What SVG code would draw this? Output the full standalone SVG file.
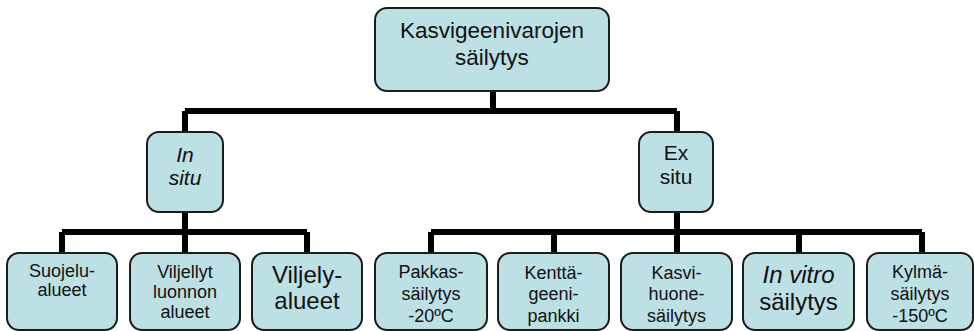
<svg xmlns="http://www.w3.org/2000/svg" width="974" height="331" viewBox="0 0 974 331">
<style>
.box{fill:#BCE0E3;stroke:#1c1c1c;stroke-width:2}
.t{font-family:"Liberation Sans",Arial,sans-serif;fill:#111;text-anchor:middle}
.s17{font-size:18px}
.s20{font-size:21px}
.s22{font-size:22.5px}
.s23{font-size:24px}
.it{font-style:italic}
.c{stroke:#000;stroke-width:6;fill:none;stroke-linejoin:miter}
</style>
<rect width="974" height="331" fill="#fff"/>
<g id="connectors">
<path class="c" d="M493 90V111M185 111H677M185 111V132M677 111V132"/>
<path class="c" d="M185 212V232M62 232H307M62 232V253M185 232V253M307 232V253"/>
<path class="c" d="M677 212V232M431 232H922M431 232V253M554 232V253M677 232V253M799 232V253M922 232V253"/>
</g>
<g id="root">
<rect class="box" x="375" y="8" width="234" height="83" rx="12"/>
<text class="t s22" x="492" y="38">Kasvigeenivarojen</text>
<text class="t s22" x="492" y="65">säilytys</text>
</g>
<g id="insitu">
<rect class="box" x="147" y="132" width="76" height="80" rx="12"/>
<text class="t s20 it" x="185" y="162">In</text>
<text class="t s20 it" x="185" y="185">situ</text>
</g>
<g id="exsitu">
<rect class="box" x="639" y="132" width="74" height="80" rx="12"/>
<text class="t s20" x="676" y="160">Ex</text>
<text class="t s20" x="676" y="184">situ</text>
</g>
<g id="suojelu">
<rect class="box" x="7" y="253" width="110" height="77" rx="12"/>
<text class="t s17" x="62" y="277">Suojelu-</text>
<text class="t s17" x="62" y="296">alueet</text>
</g>
<g id="viljellyt">
<rect class="box" x="130" y="253" width="110" height="77" rx="12"/>
<text class="t s17" x="185" y="278">Viljellyt</text>
<text class="t s17" x="185" y="298">luonnon</text>
<text class="t s17" x="185" y="318">alueet</text>
</g>
<g id="viljely">
<rect class="box" x="252" y="253" width="110" height="77" rx="12"/>
<text class="t s23" x="307" y="283">Viljely-</text>
<text class="t s23" x="307" y="309">alueet</text>
</g>
<g id="pakkas">
<rect class="box" x="375" y="253" width="112" height="77" rx="12"/>
<text class="t s17" x="431" y="278">Pakkas-</text>
<text class="t s17" x="431" y="300">säilytys</text>
<text class="t s17" x="431" y="322">-20ºC</text>
</g>
<g id="kentta">
<rect class="box" x="498" y="253" width="111" height="77" rx="12"/>
<text class="t s17" x="553.5" y="279">Kenttä-</text>
<text class="t s17" x="553.5" y="300">geeni-</text>
<text class="t s17" x="553.5" y="322">pankki</text>
</g>
<g id="kasvihuone">
<rect class="box" x="621" y="253" width="111" height="77" rx="12"/>
<text class="t s17" x="676.5" y="279">Kasvi-</text>
<text class="t s17" x="676.5" y="300">huone-</text>
<text class="t s17" x="676.5" y="322">säilytys</text>
</g>
<g id="invitro">
<rect class="box" x="743" y="253" width="111" height="77" rx="12"/>
<text class="t s23" x="798.5" y="283"><tspan class="it">In vitro</tspan></text>
<text class="t s23" x="798.5" y="310">säilytys</text>
</g>
<g id="kylma">
<rect class="box" x="867" y="253" width="106" height="77" rx="12"/>
<text class="t s17" x="920" y="278">Kylmä-</text>
<text class="t s17" x="920" y="300">säilytys</text>
<text class="t s17" x="920" y="322">-150ºC</text>
</g>
</svg>
